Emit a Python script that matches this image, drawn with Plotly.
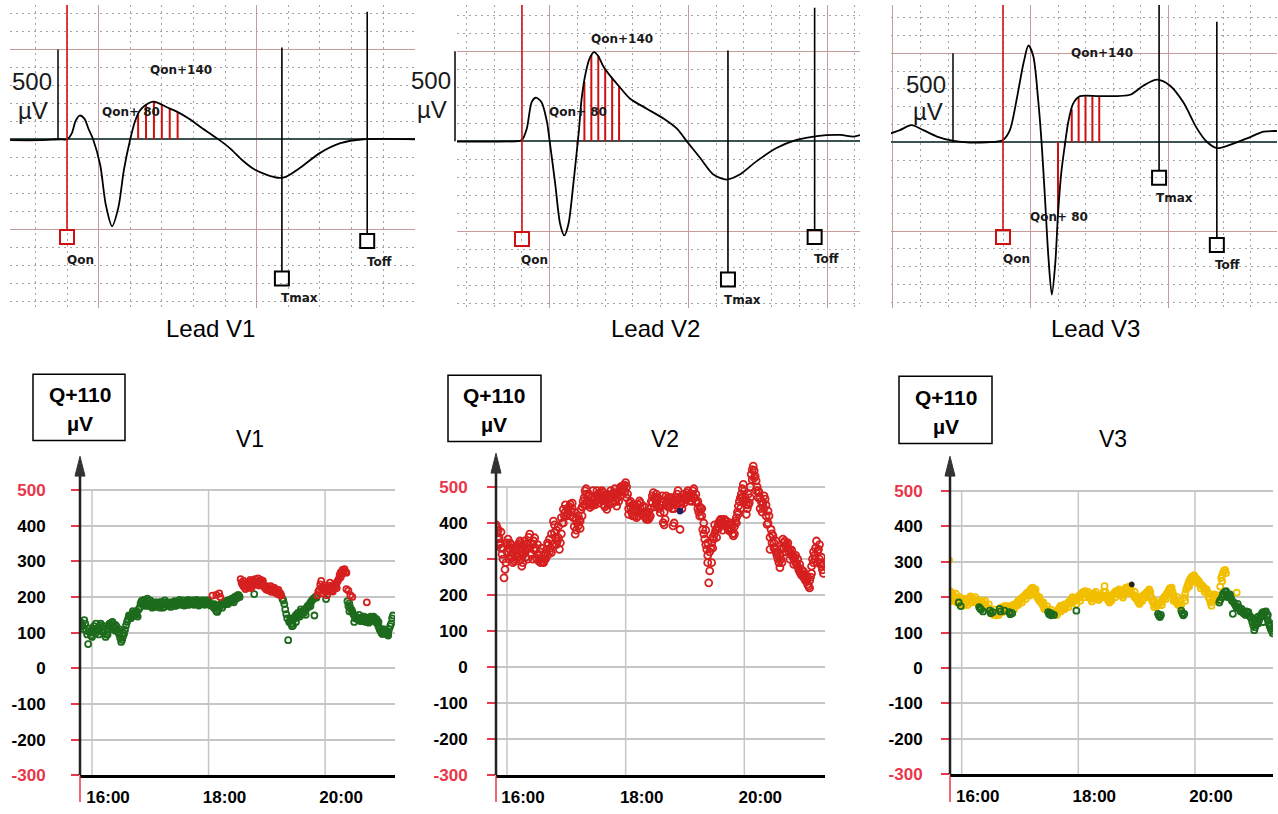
import plotly.graph_objects as go

# ======================= DATA =======================
# --- ECG complexes: time (ms from Qon) and amplitude (µV) ---
v1_ecg_t = [-72, -34, -9, 0, 6, 11, 16, 22, 27, 33, 42, 49, 57, 65, 72, 80, 86, 92, 100, 109,
            115, 125, 139, 156, 168, 190, 206, 223, 238, 253, 267, 277, 295, 320, 346, 375, 441]
v1_ecg_uv = [-5, -5, 0, 0, 33, 104, 132, 115, 60, 0, -143, -363, -484, -379, -170, 0, 99, 159, 192, 209,
             203, 181, 154, 110, 71, 5, -49, -121, -170, -198, -214, -209, -159, -77, -22, 0, 0]

v2_ecg_t = [-94, -3, 0, 7, 14, 20, 28, 36, 40, 48, 55, 61, 67, 74, 79, 82, 86, 92, 98, 104, 110, 117,
            129, 139, 156, 180, 204, 223, 238, 257, 276, 295, 314, 338, 367, 396, 425, 459, 478, 488]
v2_ecg_uv = [-2, 2, 7, 71, 218, 242, 218, 108, -2, -240, -460, -524, -460, -240, -57, 55, 236, 383, 465,
             496, 474, 419, 355, 310, 236, 181, 126, 71, -2, -93, -185, -213, -185, -112, -38, 7, 29, 35, 26, 35]

v3_ecg_t = [-163, -150, -133, -116, -96, -72, -48, -24, 0, 10, 20, 30, 37, 44, 51, 56, 61, 66, 71, 76,
            80, 85, 90, 95, 102, 112, 141, 185, 204, 224, 243, 262, 282, 296, 311, 330, 355, 379, 399]
v3_ecg_uv = [50, 68, 96, 68, 32, 7, -2, 0, 13, 68, 244, 448, 544, 485, 244, 4, -311, -644, -857, -682,
             -404, -163, -15, 115, 217, 259, 259, 267, 318, 352, 318, 226, 78, 4, -33, -15, 22, 59, 63]

hatch_t = [80, 90, 100, 110, 120, 130, 140]          # Qon+80 ... Qon+140 ms
v1_hatch_uv = [5, 140, 192, 208, 192, 172, 152]
v2_hatch_uv = [-20, 330, 480, 474, 404, 352, 305]
v3_hatch_uv = [-404, -15, 185, 250, 259, 259, 259]

mark_names = ["Qon", "Tmax", "Toff"]
v1_mark_t = [0, 272, 380]
v1_mark_top = [747, 511, 709]
v1_mark_bot = [-505, -736, -527]
v1_mark_sq = [-544, -775, -566]
v2_mark_t = [0, 297, 422]
v2_mark_top = [758, 505, 742]
v2_mark_bot = [-505, -731, -495]
v2_mark_sq = [-544, -769, -533]
v3_mark_t = [0, 227, 311]
v3_mark_top = [772, 772, 678]
v3_mark_bot = [-494, -161, -539]
v3_mark_sq = [-533, -200, -578]

scale_bar_uv = [0, 500]

# --- Q+110 trend: minutes from 16:00, µV ---
time_tickvals = [0, 120, 240]
time_ticktext = ["16:00", "18:00", "20:00"]
uv_tickvals = [500, 400, 300, 200, 100, 0, -100, -200, -300]

v1_green = [(-12,130),(-11,118),(-10,122),(-9,110),(-8,135),(-7,125),(-6,105),(-5,95),(-4,68),(-3,112),
    (-2,100),(-1,92),(0,88),(1,105),(2,118),(3,110),(4,100),(5,112),(6,108),(7,95),(8,120),(9,125),
    (10,115),(11,105),(12,100),(14,88),(15,95),(16,110),(17,118),(18,125),(19,120),(20,128),(21,130),
    (22,118),(23,112),(24,122),(25,118),(26,108),(27,102),(28,95),(29,85),(30,74),(31,80),(32,90),
    (33,97),(34,108),(35,120),(36,130),(37,138),(38,148),(39,145),(40,140),(41,150),(42,146),(43,155),
    (44,148),(45,152),(46,160),(47,145),(48,165),(49,170),(50,182),(51,188),(52,190),(53,180),(54,192),
    (55,185),(56,178),(57,195),(58,188),(59,175),(60,182),(61,178),(62,170),(63,175),(64,180),(65,172),
    (66,178),(67,185),(68,180),(69,175),(70,182),(71,186),(72,178),(73,170),(74,172),(75,180),(76,184),
    (77,178),(78,175),(79,182),(80,178),(81,172),(82,180),(83,185),(84,182),(85,188),(86,180),(87,176),
    (88,184),(89,180),(90,186),(91,182),(92,178),(93,185),(94,190),(95,184),(96,180),(97,178),(98,188),
    (99,192),(100,186),(101,180),(102,184),(103,190),(104,185),(105,178),(106,182),(107,188),(108,192),
    (109,186),(110,182),(111,180),(112,186),(113,190),(114,184),(115,180),(116,178),(117,185),(118,190),
    (119,186),(120,182),(121,180),(122,176),(123,180),(124,178),(125,172),(126,168),(127,175),(128,160),
    (129,158),(130,165),(131,172),(132,178),(133,182),(134,180),(135,185),(136,178),(137,186),(138,188),
    (139,184),(140,190),(141,186),(142,192),(143,188),(144,195),(145,190),(146,196),(147,200),(148,194),
    (149,202),(150,198),(151,205),(152,200),(167,208),(196,195),(197,190),(198,180),(199,165),(200,152),
    (201,140),(202,79),(203,130),(204,135),(205,125),(206,118),(207,120),(208,138),(209,145),(210,150),
    (211,142),(212,155),(213,150),(214,145),(215,158),(216,152),(217,160),(218,155),(219,165),(220,162),
    (221,170),(222,175),(223,172),(224,180),(225,185),(226,188),(227,192),(228,195),(229,148),(230,200),
    (231,198),(241,194),(263,188),(264,175),(265,182),(266,170),(267,165),(268,160),(269,152),(270,148),
    (271,140),(272,145),(273,138),(274,142),(275,135),(276,140),(277,132),(278,138),(279,145),(280,135),
    (281,140),(282,130),(283,142),(284,136),(285,140),(286,132),(287,145),(288,138),(289,142),(290,135),
    (291,140),(292,130),(293,138),(294,125),(295,118),(296,110),(297,105),(298,100),(299,96),(300,102),
    (301,108),(302,98),(303,104),(304,95),(305,100),(306,110),(307,118),(308,125),(309,140),(310,148)]
v1_green_b = [(0,110),(4,125),(8,105),(12,118),(16,95),(20,110),(24,105),(28,110),(32,100),(42,160),
    (46,150),(55,175),(60,190),(65,185),(70,170),(75,190),(80,185),(85,175),(90,192),(95,176),(100,178),
    (105,190),(110,176),(115,190),(120,190),(126,180),(134,170),(140,180),(146,185),(150,205),(205,140),
    (210,130),(215,165),(220,150),(225,175),(265,160),(270,130),(275,150),(280,145),(285,128),(290,145),
    (295,130),(300,110),(305,92)]

v1_red = [(124,204),(128,206),(131,210),(132,200),(153,250),(154,240),(155,235),(156,230),(157,228),
    (158,222),(159,238),(160,232),(161,226),(162,242),(163,248),(164,236),(165,230),(166,245),(168,250),
    (169,242),(170,238),(171,252),(172,244),(173,236),(174,248),(175,240),(176,232),(177,230),(178,226),
    (179,222),(180,230),(181,226),(182,218),(183,224),(184,220),(185,214),(186,222),(187,226),(188,218),
    (189,212),(190,216),(191,208),(192,214),(193,206),(194,210),(195,204),(232,205),(233,215),(234,220),
    (235,235),(236,245),(237,228),(238,210),(239,222),(240,215),(242,205),(243,225),(244,232),(245,240),
    (246,228),(247,218),(248,215),(249,225),(250,236),(251,230),(252,240),(253,245),(254,250),(255,262),
    (256,268),(257,270),(258,276),(259,272),(260,278),(261,270),(262,222),(264,218),(266,205),(268,200),
    (283,185)]
v1_red_b = [(156,245),(160,240),(164,225),(168,235),(172,232),(176,245),(180,220),(184,230),(188,225),
    (192,220),(236,225),(240,232),(244,215),(248,228),(252,225),(256,255),(258,265),(262,268)]

v2_red = [(-11,395),(-10,387),(-10,372),(-9,380),(-8,360),(-8,340),(-7,345),(-6,330),(-5,313),(-4,300),
    (-3,248),(-2,271),(-1,290),(0,320),(1,355),(1,340),(2,330),(3,327),(3,345),(4,310),(5,304),(6,318),
    (7,295),(8,300),(9,325),(10,336),(10,312),(11,305),(12,330),(13,350),(13,320),(14,300),(15,280),
    (16,310),(17,318),(17,340),(18,325),(19,305),(20,331),(21,345),(22,360),(23,369),(23,330),(24,315),
    (25,313),(26,340),(27,350),(28,359),(29,330),(30,300),(31,310),(32,295),(33,300),(34,290),(35,300),
    (36,292),(37,308),(38,300),(39,315),(40,327),(41,310),(42,340),(43,355),(44,330),(45,318),(46,340),
    (47,405),(48,373),(49,360),(50,380),(51,350),(52,359),(53,327),(54,345),(55,370),(56,400),(57,438),
    (58,420),(59,430),(60,419),(61,440),(62,425),(63,445),(64,452),(65,430),(66,440),(67,415),(68,390),
    (69,369),(70,380),(71,400),(72,392),(73,410),(74,405),(75,438),(76,445),(77,460),(78,470),(79,489),
    (80,480),(81,460),(82,475),(83,450),(84,443),(85,455),(86,448),(87,456),(88,465),(89,470),(90,460),
    (91,475),(92,480),(93,470),(94,484),(95,478),(96,490),(97,466),(98,450),(99,445),(100,460),(101,438),
    (102,455),(103,468),(104,475),(105,490),(106,480),(107,470),(108,484),(109,495),(110,460),(111,447),
    (112,470),(113,485),(114,494),(115,500),(116,488),(117,503),(118,495),(119,505),(120,512),(121,500),
    (122,480),(123,424),(124,456),(125,445),(126,430),(127,450),(128,438),(129,420),(130,440),(131,415),
    (132,430),(133,450),(134,461),(135,440),(136,425),(137,445),(138,429),(139,420),(140,415),(141,410),
    (142,425),(143,430),(144,415),(145,420),(146,460),(147,475),(148,484),(149,470),(150,465),(151,456),
    (152,470),(153,445),(154,440),(155,429),(156,460),(157,450),(158,401),(159,395),(160,410),(161,475),
    (162,460),(163,470),(164,455),(165,447),(166,460),(167,440),(168,392),(169,400),(170,460),(171,470),
    (172,480),(173,465),(174,455),(175,382),(176,450),(177,460),(178,470),(179,480),(180,468),(181,475),
    (182,484),(183,470),(184,475),(185,461),(186,470),(187,480),(188,489),(189,495),(190,470),(191,460),
    (192,456),(193,440),(194,430),(195,419),(196,440),(197,420),(198,382),(199,370),(200,355),(201,340),
    (202,327),(203,310),(203,290),(204,234),(205,267),(206,330),(207,345),(208,360),(209,355),(210,370),
    (211,380),(212,382),(213,390),(214,400),(215,405),(216,395),(217,410),(218,400),(219,401),(220,395),
    (221,405),(222,392),(223,385),(224,380),(225,378),(226,400),(227,385),(228,370),(229,364),(230,390),
    (231,405),(232,415),(233,430),(234,447),(235,460),(236,470),(237,480),(238,495),(239,507),(240,490),
    (241,470),(242,424),(243,440),(244,450),(245,456),(246,470),(247,535),(248,548),(249,558),(250,545),
    (251,530),(252,517),(253,500),(254,490),(255,484),(256,470),(257,460),(258,450),(259,456),(260,440),
    (261,466),(262,450),(263,396),(264,433),(265,420),(266,327),(267,382),(268,370),(269,364),(270,345),
    (271,331),(272,320),(273,310),(274,300),(275,290),(276,276),(277,300),(278,330),(279,355),(280,345),
    (281,350),(282,335),(283,341),(284,330),(285,320),(286,327),(287,315),(288,310),(289,308),(290,300),
    (291,305),(292,290),(293,285),(294,280),(295,271),(296,265),(297,260),(298,255),(299,257),(300,250),
    (301,245),(302,240),(303,244),(304,230),(305,225),(306,220),(307,250),(308,280),(309,300),(310,290),
    (311,310),(312,330),(313,350),(314,320),(315,327),(316,300),(317,290),(318,281),(319,270),(320,260)]
v2_red_b = [(-9,355),(-6,375),(-4,330),(-1,345),(2,300),(4,340),(6,290),(8,330),(11,340),(12,295),
    (14,345),(16,290),(18,350),(19,330),(21,300),(24,345),(26,300),(28,325),(31,340),(33,320),(35,330),
    (37,290),(39,300),(41,345),(43,320),(45,370),(48,395),(50,340),(52,390),(55,415),(57,400),(59,450),
    (62,440),(64,420),(66,455),(68,430),(70,410),(72,420),(74,385),(76,420),(78,450),(80,495),(83,480),
    (85,470),(87,490),(89,450),(91,490),(93,455),(95,465),(97,485),(99,470),(101,480),(103,450),(105,470),
    (107,455),(109,475),(111,480),(113,460),(115,475),(117,490),(119,485),(121,470),(123,440),(125,460),
    (127,420),(129,450),(131,440),(133,420),(135,455),(137,430),(139,445),(141,430),(143,410),(145,440),
    (147,455),(149,445),(151,480),(153,470),(155,450),(157,475),(159,430),(161,450),(163,445),(165,470),
    (167,470),(169,440),(171,450),(173,490),(175,470),(177,440),(179,455),(181,465),(183,490),(185,480),
    (187,460),(189,470),(191,480),(193,460),(195,445),(197,440),(199,400),(201,380),(203,345),(205,320),
    (207,290),(208,330),(210,395),(212,360),(214,385),(216,410),(218,380),(220,410),(222,405),(224,395),
    (226,380),(228,395),(230,370),(232,400),(234,425),(236,440),(238,470),(240,460),(242,450),(244,480),
    (246,500),(248,520),(250,525),(252,490),(254,470),(256,440),(258,430),(260,475),(262,420),(264,400),
    (266,360),(268,345),(270,330),(272,350),(274,320),(276,310),(278,290),(280,330),(282,320),(284,345),
    (286,300),(288,325),(290,285),(292,310),(294,300),(296,285),(298,270),(300,265),(302,255),(304,250),
    (306,240),(308,260),(310,320),(312,300),(314,290),(316,340),(318,305),(320,285)]
v2_dark = [(175, 433)]

v3_yellow = [(-13,305),(-12,217),(-11,205),(-10,212),(-9,208),(-8,195),(-7,200),(-6,190),(-5,185),(-4,192),
    (-3,195),(-2,180),(-1,188),(0,178),(1,176),(2,185),(3,180),(4,190),(5,185),(6,195),(7,190),(8,198),
    (9,202),(10,199),(11,192),(12,195),(13,188),(14,192),(15,190),(16,185),(17,180),(18,178),(20,182),
    (21,180),(22,185),(23,178),(24,172),(25,176),(26,170),(27,165),(28,168),(30,160),(31,158),(32,153),
    (33,150),(34,155),(35,152),(36,149),(37,155),(38,160),(40,170),(41,165),(42,172),(43,168),(44,175),
    (45,165),(46,162),(47,168),(48,160),(50,165),(51,170),(52,172),(53,178),(54,175),(55,180),(56,181),
    (57,185),(58,188),(59,192),(60,190),(61,195),(62,198),(63,199),(64,202),(65,205),(66,208),(67,212),
    (68,210),(69,215),(70,217),(71,222),(72,225),(73,227),(74,220),(75,217),(76,210),(77,205),(78,199),
    (79,195),(80,190),(81,188),(82,185),(83,180),(84,175),(85,167),(86,170),(88,165),(90,160),(94,155),
    (96,153),(97,158),(98,160),(99,162),(100,168),(101,172),(102,176),(103,170),(104,165),(105,172),
    (106,167),(107,175),(108,178),(109,181),(110,185),(111,188),(112,192),(113,190),(114,185),(115,195),
    (116,190),(117,198),(119,195),(120,199),(121,205),(122,200),(123,208),(124,212),(125,215),(126,210),
    (127,217),(128,212),(129,208),(130,204),(131,200),(132,198),(133,195),(134,200),(135,205),(136,210),
    (137,208),(138,200),(139,198),(140,195),(141,192),(142,198),(143,202),(144,199),(145,205),(146,215),
    (147,231),(148,215),(149,204),(150,195),(151,190),(152,185),(153,192),(154,200),(155,205),(156,208),
    (157,212),(158,215),(159,217),(160,210),(161,215),(162,222),(163,218),(164,210),(165,205),(166,199),
    (167,210),(168,220),(169,227),(170,225),(171,220),(172,228),(173,231),(174,225),(176,208),(177,205),
    (178,200),(179,198),(180,195),(181,190),(182,185),(183,181),(184,190),(185,198),(186,204),(187,200),
    (188,208),(189,210),(190,213),(191,215),(192,218),(193,222),(194,215),(195,200),(196,190),(197,185),
    (198,172),(199,178),(200,180),(201,175),(205,185),(206,190),(207,195),(208,199),(209,202),(210,205),
    (211,210),(212,213),(213,220),(214,225),(215,222),(216,227),(217,215),(218,205),(219,195),(220,190),
    (221,185),(222,181),(223,178),(225,175),(229,199),(230,210),(231,222),(232,230),(233,238),(234,245),
    (235,250),(236,255),(237,258),(238,259),(239,262),(240,258),(241,254),(242,250),(243,248),(244,245),
    (245,240),(246,236),(247,233),(248,231),(249,228),(250,225),(251,222),(252,222),(253,215),(254,200),
    (255,195),(256,185),(257,176),(258,190),(259,200),(260,208),(261,205),(262,200),(263,199),(264,205),
    (267,254),(268,262),(269,270),(270,275),(271,277),(272,268),(283,213)]
v3_yellow_b = [(-10,190),(-6,210),(-2,200),(2,195),(6,178),(10,185),(14,200),(18,190),(24,190),(28,180),
    (34,165),(38,150),(42,158),(46,175),(50,175),(54,165),(58,178),(62,185),(66,195),(70,205),(72,212),
    (76,222),(80,200),(84,185),(88,175),(92,165),(98,150),(102,160),(106,180),(110,172),(114,200),
    (118,180),(122,190),(126,200),(130,215),(134,188),(138,215),(142,205),(146,200),(150,205),(154,190),
    (158,200),(162,210),(166,215),(170,212),(174,215),(178,215),(182,200),(186,190),(190,200),(194,205),
    (198,190),(202,180),(206,178),(210,195),(214,210),(218,190),(222,200),(226,180),(230,190),(234,230),
    (238,245),(242,240),(246,225),(250,215),(254,210),(258,205),(262,190),(266,230),(268,245),(276,205)]

v3_green = [(-3,185),(-1,175),(18,172),(19,168),(20,165),(22,160),(29,162),(30,155),(32,158),(39,167),
    (40,160),(44,162),(49,158),(50,152),(52,155),(89,158),(90,152),(91,156),(92,149),(93,152),(95,150),
    (118,162),(202,153),(203,148),(204,144),(205,150),(226,162),(227,155),(228,149),(229,153),(265,185),
    (266,192),(268,200),(269,210),(270,205),(271,215),(272,217),(273,208),(274,200),(275,205),(276,208),
    (277,198),(278,190),(279,153),(280,185),(281,180),(282,175),(283,170),(284,181),(285,172),(286,168),
    (287,160),(288,167),(289,158),(290,155),(291,153),(292,150),(293,160),(294,155),(295,158),(296,148),
    (297,145),(298,140),(299,130),(300,120),(301,107),(302,115),(303,125),(304,130),(305,126),(306,135),
    (307,145),(308,149),(309,155),(310,158),(311,150),(312,158),(313,160),(314,145),(315,135),(316,125),
    (317,117),(318,110),(319,105),(320,98),(300,140),(305,145),(310,130),(315,150),(318,125)]
v3_dark = [(175, 236)]

# ======================= FIGURE =======================
W, H = 1278, 814
FONT = "Liberation Sans, Arial, sans-serif"
SMALL = "DejaVu Sans, sans-serif"
MAJ = "#c49c9c"
MINC = "#a4a4a4"
BASE = "#3c5252"
RED = "#d01010"
TICKRED = "#e8364a"
GREEN = "#1d6b1d"
PTRED = "#d61f1f"
YELLOW = "#f2bf00"
GRID = "#c6c6c6"


def px(x):
    return x / W


def py(y):
    return 1 - y / H


fig = go.Figure()
layout = {}
shapes = []
annotations = []


def axn(n):
    return ("x" if n == 1 else f"x{n}"), ("y" if n == 1 else f"y{n}")


def lay(n):
    return ("xaxis" if n == 1 else f"xaxis{n}"), ("yaxis" if n == 1 else f"yaxis{n}")


def text(s, x, y, size, family=FONT, color="black", bold=False):
    annotations.append(dict(text=(f"<b>{s}</b>" if bold else s), x=px(x), y=py(y), xref="paper", yref="paper",
                            showarrow=False, xanchor="center", yanchor="middle",
                            font=dict(family=family, size=size, color=color)))


top = [
    dict(n=1, xd=(10, 415), xr=(-72.2, 440.5), yr=(-939.6, 747.3), t=v1_ecg_t, uv=v1_ecg_uv, h=v1_hatch_uv,
         mt=v1_mark_t, mtop=v1_mark_top, mbot=v1_mark_bot, msq=v1_mark_sq, bar=58,
         labels=[("500", 32, 83, 24, FONT), ("µV", 33, 112, 24, FONT),
                 ("Qon+140", 181, 71, 12, SMALL), ("Qon+ 80", 131, 113, 12, SMALL),
                 ("Qon", 80, 263, 12, SMALL), ("Tmax", 299, 302, 12, SMALL), ("Toff", 379, 265, 12, SMALL)],
         lead=("Lead V1", 210, 333)),
    dict(n=2, xd=(457, 860), xr=(-93.7, 487.4), yr=(-928.6, 758.2), t=v2_ecg_t, uv=v2_ecg_uv, h=v2_hatch_uv,
         mt=v2_mark_t, mtop=v2_mark_top, mbot=v2_mark_bot, msq=v2_mark_sq, bar=455,
         labels=[("500", 431, 82, 24, FONT), ("µV", 432, 111, 24, FONT),
                 ("Qon+140", 622, 39, 12, SMALL), ("Qon+ 80", 578, 113, 12, SMALL),
                 ("Qon", 534, 263, 12, SMALL), ("Tmax", 743, 304, 12, SMALL), ("Toff", 826, 262, 12, SMALL)],
         lead=("Lead V2", 655, 333)),
    dict(n=3, xd=(891, 1277), xr=(-162.9, 398.5), yr=(-933.3, 772.2), t=v3_ecg_t, uv=v3_ecg_uv, h=v3_hatch_uv,
         mt=v3_mark_t, mtop=v3_mark_top, mbot=v3_mark_bot, msq=v3_mark_sq, bar=953,
         labels=[("500", 926, 86, 24, FONT), ("µV", 928, 113, 24, FONT),
                 ("Qon+140", 1102, 54, 12, SMALL), ("Qon+ 80", 1059, 220, 12, SMALL),
                 ("Qon", 1016, 262, 12, SMALL), ("Tmax", 1174, 200, 12, SMALL), ("Toff", 1227, 268, 12, SMALL)],
         lead=("Lead V3", 1095, 333)),
]

for p in top:
    n = p["n"]
    xa, ya = axn(n)
    xl, yl = lay(n)
    layout[xl] = dict(domain=[px(p["xd"][0]), px(p["xd"][1])], range=list(p["xr"]), anchor=ya,
                      showticklabels=False, ticks="", showline=False, zeroline=False,
                      showgrid=True, gridcolor=MAJ, gridwidth=1, tick0=40, dtick=200,
                      minor=dict(tick0=40, dtick=40, showgrid=True, gridcolor=MINC, griddash="2px,4px", gridwidth=1))
    layout[yl] = dict(domain=[py(312), py(5)], range=list(p["yr"]), anchor=xa,
                      showticklabels=False, ticks="", showline=False,
                      zeroline=True, zerolinecolor=BASE, zerolinewidth=2,
                      showgrid=True, gridcolor=MAJ, gridwidth=1, tick0=0, dtick=500,
                      minor=dict(tick0=0, dtick=100, showgrid=True, gridcolor=MINC, griddash="2px,4px", gridwidth=1))
    hx, hy = [], []
    for t, v in zip(hatch_t, p["h"]):
        hx += [t, t, None]
        hy += [0, v, None]
    fig.add_trace(go.Scatter(x=hx, y=hy, mode="lines", line=dict(color=RED, width=2),
                             xaxis=xa, yaxis=ya, showlegend=False, hoverinfo="skip"))
    fig.add_trace(go.Scatter(x=p["t"], y=p["uv"], mode="lines",
                             line=dict(color="black", width=1.8, shape="spline", smoothing=0.8),
                             xaxis=xa, yaxis=ya, showlegend=False))
    for i, name in enumerate(mark_names):
        col = RED if name == "Qon" else "black"
        fig.add_trace(go.Scatter(x=[p["mt"][i], p["mt"][i]], y=[p["mtop"][i], p["mbot"][i]], mode="lines",
                                 line=dict(color=col, width=1.6), xaxis=xa, yaxis=ya, showlegend=False))
        fig.add_trace(go.Scatter(x=[p["mt"][i]], y=[p["msq"][i]], mode="markers",
                                 marker=dict(symbol="square-open", size=14, color=col, line=dict(width=2, color=col)),
                                 xaxis=xa, yaxis=ya, showlegend=False))
    shapes.append(dict(type="line", xref="paper", yref=ya, x0=px(p["bar"]), x1=px(p["bar"]),
                       y0=scale_bar_uv[0], y1=scale_bar_uv[1], line=dict(color="black", width=1.5)))
    for s, x, y, size, fam in p["labels"]:
        text(s, x, y, size, family=fam, color="#1a1a1a", bold=(fam == SMALL))
    text(p["lead"][0], p["lead"][1], p["lead"][2], 24)

# ---------------- bottom trend panels ----------------
bottom = [
    dict(n=4, xd=(80, 395), y500=496, ybot=785, ytop=466, xr=(-12.4, 312), arrow=462, standoff=22,
         series=[(v1_green + v1_green_b, GREEN, "circle-open", 6), (v1_red + v1_red_b, PTRED, "circle-open", 6)],
         box=(33, 379, 125, 446), qtxt=(80, 399, 429), title=("V1", 250, 444)),
    dict(n=5, xd=(496, 825), y500=493, ybot=785, ytop=463, xr=(-11.1, 321.6), arrow=459, standoff=16,
         series=[(v2_red + v2_red_b, PTRED, "circle-open", 7), (v2_dark, "#202060", "circle", 5)],
         box=(448, 380, 541, 447), qtxt=(494, 400, 430), title=("V2", 665, 444)),
    dict(n=6, xd=(950, 1273), y500=497, ybot=784, ytop=466, xr=(-12.0, 320.3), arrow=462, standoff=15,
         series=[(v3_yellow + v3_yellow_b, YELLOW, "circle-open", 6), (v3_green, GREEN, "circle-open", 6),
                 (v3_dark, "#222222", "circle", 4)],
         box=(899, 381, 992, 449), qtxt=(946, 402, 432), title=("V3", 1113, 444)),
]

uv_ticktext = [(f'<span style="color:{TICKRED}">{v}</span>' if v in (500, -300) else str(v)) for v in uv_tickvals]

for p in bottom:
    n = p["n"]
    xa, ya = axn(n)
    xl, yl = lay(n)
    x0, x1 = p["xd"]
    per100 = (p["ybot"] - p["y500"]) / 800.0
    ymax = 500 + (p["y500"] - p["ytop"]) / per100
    layout[xl] = dict(domain=[px(x0), px(x1)], range=list(p["xr"]), anchor=ya,
                      tickvals=time_tickvals, ticktext=time_ticktext, ticks="",
                      tickfont=dict(family=FONT, size=17, color="black", weight="bold"),
                      ticklabelshift=16, ticklabelstandoff=4,
                      showgrid=False, zeroline=False,
                      showline=True, linecolor="black", linewidth=2.5)
    layout[yl] = dict(domain=[py(p["ybot"]), py(p["ytop"])], range=[-300, ymax], anchor=xa,
                      tickvals=uv_tickvals, ticktext=uv_ticktext,
                      tickfont=dict(family=FONT, size=17, color="black", weight="bold"),
                      ticks="outside", ticklen=8, tickwidth=1.5, tickcolor=TICKRED,
                      ticklabelstandoff=p["standoff"],
                      showgrid=True, gridcolor=GRID, gridwidth=1.5, zeroline=False, showline=False)
    for tv in time_tickvals:
        shapes.append(dict(type="line", xref=xa, yref=ya, x0=tv, x1=tv, y0=-300, y1=500, layer="below",
                           line=dict(color=GRID, width=1.5)))
    for data, col, sym, size in p["series"]:
        fig.add_trace(go.Scatter(x=[d[0] for d in data], y=[d[1] for d in data], mode="markers",
                                 marker=dict(symbol=sym, size=size, color=col, line=dict(width=1.8, color=col)),
                                 xaxis=xa, yaxis=ya, showlegend=False))
    shapes.append(dict(type="line", xref="paper", yref="paper", x0=px(x0), x1=px(x0),
                       y0=py(p["ybot"]), y1=py(p["arrow"] + 12), line=dict(color="#222", width=2.5)))
    shapes.append(dict(type="path", xref="paper", yref="paper",
                       path=f"M {px(x0)},{py(p['arrow'])} L {px(x0 - 5)},{py(p['arrow'] + 20)} "
                            f"L {px(x0 + 5)},{py(p['arrow'] + 20)} Z",
                       fillcolor="#333", line=dict(color="#333", width=1)))
    shapes.append(dict(type="line", xref="paper", yref="paper", x0=px(x0), x1=px(x0),
                       y0=py(p["ybot"] + 1), y1=py(812), line=dict(color=TICKRED, width=1.5)))
    bx0, by0, bx1, by1 = p["box"]
    shapes.append(dict(type="rect", xref="paper", yref="paper", x0=px(bx0), x1=px(bx1), y0=py(by1), y1=py(by0),
                       line=dict(color="black", width=1.5), fillcolor="rgba(0,0,0,0)"))
    cx, t1, t2 = p["qtxt"]
    text("Q+110", cx, t1, 21, bold=True)
    text("µV", cx, t2, 21, bold=True)
    text(p["title"][0], p["title"][1], p["title"][2], 23)

fig.update_layout(**layout)
fig.update_layout(width=W, height=H, margin=dict(l=0, r=0, t=0, b=0), autosize=False,
                  paper_bgcolor="white", plot_bgcolor="white", showlegend=False,
                  shapes=shapes, annotations=annotations)
# remove the default page margin so the 1278x814 figure fills the window exactly
fig.write_html("out.html", config={"displayModeBar": False},
               post_script="document.body.style.margin='0px';document.body.style.overflow='hidden';")
